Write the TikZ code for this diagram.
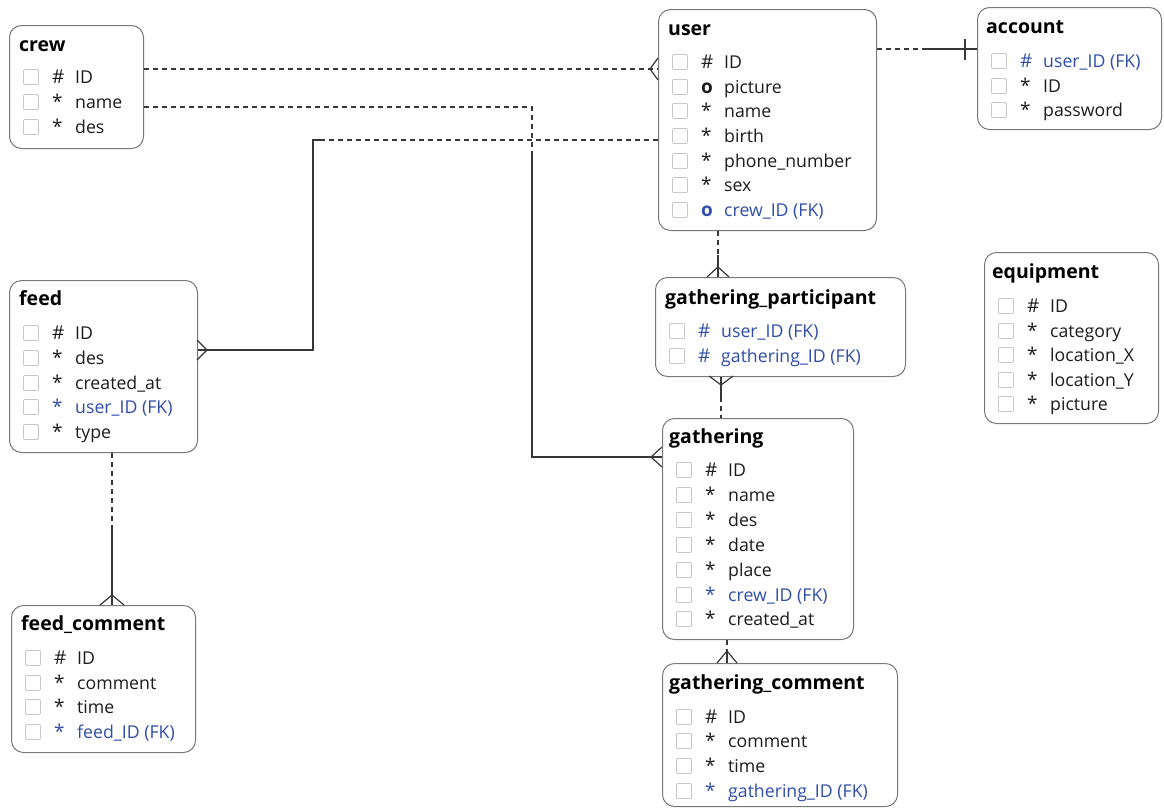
\documentclass[tikz,border=0pt]{standalone}
\usepackage{fontspec}
\setmainfont{Open Sans}
\definecolor{txt}{RGB}{28,28,28}
\definecolor{fk}{RGB}{48,78,168}
\definecolor{boxc}{RGB}{120,120,120}
\definecolor{chkc}{RGB}{200,200,200}
\definecolor{linec}{RGB}{55,55,55}
% one attribute row: [colour]{box left}{y}{name}{symbol}{text}
\newcommand{\erow}[6][txt]{%
	\node[chk] (#4-c) at (#2+22,#3) {};
	\node[sym,text=#1] (#4-s) at (#2+43,#3+6) {#5};
	\node[fld,text=#1] (#4) at (#2+66,#3+6) {#6};
}

\begin{document}
\begin{tikzpicture}[x=1pt,y=-1pt,
	entity/.style={anchor=north west, draw=boxc, line width=1pt, rounded corners=12pt, inner sep=0pt, fill=white},
	ttl/.style={anchor=base west, inner sep=0pt, text=black, font=\fontsize{19.5}{22}\selectfont\bfseries},
	chk/.style={draw=chkc, line width=0.9pt, rounded corners=1pt, minimum size=15pt, inner sep=0pt},
	sym/.style={anchor=base west, inner sep=0pt, font=\fontsize{19}{20}\selectfont},
	fld/.style={anchor=base west, inner sep=0pt, font=\fontsize{17.7}{20}\selectfont},
	rel/.style={draw=linec, line width=1.2pt},
	opt/.style={rel, dash pattern=on 5pt off 4pt}]
	\useasboundingbox (0,0) rectangle (1164,809);
		%Entities
			%crew
				\node[entity, minimum width=134, minimum height=123] (crew) at (9,25) {};
				\node[ttl] (crew-t) at (19,51) {crew};
				\erow{9}{77}{crew-id}{\#}{ID}
				\erow{9}{102}{crew-name}{*}{name}
				\erow{9}{127}{crew-des}{*}{des}
			%user
				\node[entity, minimum width=218, minimum height=221] (user) at (658,9) {};
				\node[ttl] (user-t) at (668,35) {user};
				\erow{658}{62}{user-id}{\#}{ID}
				\erow{658}{87}{user-picture}{\bfseries o}{picture}
				\erow{658}{111}{user-name}{*}{name}
				\erow{658}{136}{user-birth}{*}{birth}
				\erow{658}{161}{user-phone}{*}{phone\_number}
				\erow{658}{185}{user-sex}{*}{sex}
				\erow[fk]{658}{210}{user-crew}{\bfseries o}{crew\_ID (FK)}
			%account
				\node[entity, minimum width=184, minimum height=122] (account) at (977,7) {};
				\node[ttl] (account-t) at (986,33) {account};
				\erow[fk]{977}{61}{account-user}{\#}{user\_ID (FK)}
				\erow{977}{86}{account-id}{*}{ID}
				\erow{977}{110}{account-pw}{*}{password}
			%gathering_participant
				\node[entity, minimum width=250, minimum height=99] (gp) at (655,277) {};
				\node[ttl] (gp-t) at (665,304) {gathering\_participant};
				\erow[fk]{655}{331}{gp-user}{\#}{user\_ID (FK)}
				\erow[fk]{655}{356}{gp-gathering}{\#}{gathering\_ID (FK)}
			%equipment
				\node[entity, minimum width=174, minimum height=171] (equipment) at (984,252) {};
				\node[ttl] (equipment-t) at (992,278) {equipment};
				\erow{984}{306}{equipment-id}{\#}{ID}
				\erow{984}{331}{equipment-cat}{*}{category}
				\erow{984}{355}{equipment-x}{*}{location\_X}
				\erow{984}{380}{equipment-y}{*}{location\_Y}
				\erow{984}{404}{equipment-pic}{*}{picture}
			%feed
				\node[entity, minimum width=188, minimum height=172] (feed) at (9,280) {};
				\node[ttl] (feed-t) at (19,305) {feed};
				\erow{9}{333}{feed-id}{\#}{ID}
				\erow{9}{358}{feed-des}{*}{des}
				\erow{9}{383}{feed-created}{*}{created\_at}
				\erow[fk]{9}{407}{feed-user}{*}{user\_ID (FK)}
				\erow{9}{432}{feed-type}{*}{type}
			%gathering
				\node[entity, minimum width=191, minimum height=221] (gathering) at (662,418) {};
				\node[ttl] (gathering-t) at (669,443) {gathering};
				\erow{662}{470}{gathering-id}{\#}{ID}
				\erow{662}{495}{gathering-name}{*}{name}
				\erow{662}{520}{gathering-des}{*}{des}
				\erow{662}{545}{gathering-date}{*}{date}
				\erow{662}{570}{gathering-place}{*}{place}
				\erow[fk]{662}{595}{gathering-crew}{*}{crew\_ID (FK)}
				\erow{662}{619}{gathering-created}{*}{created\_at}
			%feed_comment
				\node[entity, minimum width=184, minimum height=147] (fcom) at (11,605) {};
				\node[ttl] (fcom-t) at (21,630) {feed\_comment};
				\erow{11}{658}{fcom-id}{\#}{ID}
				\erow{11}{683}{fcom-comment}{*}{comment}
				\erow{11}{707}{fcom-time}{*}{time}
				\erow[fk]{11}{732}{fcom-feed}{*}{feed\_ID (FK)}
			%gathering_comment
				\node[entity, minimum width=235, minimum height=143] (gcom) at (662,663) {};
				\node[ttl] (gcom-t) at (669,689) {gathering\_comment};
				\erow{662}{717}{gcom-id}{\#}{ID}
				\erow{662}{741}{gcom-comment}{*}{comment}
				\erow{662}{766}{gcom-time}{*}{time}
				\erow[fk]{662}{791}{gcom-gathering}{*}{gathering\_ID (FK)}
		%Relations
			%crew - user
				\coordinate (cu) at (650,69);
				\draw[opt] (crew.east |- cu) -- (user.west |- cu);
				\draw[rel] (cu) ++(8,-11) -- (cu) -- ++(8,11);
			%crew - gathering
				\coordinate (cg1) at (532,107);
				\coordinate (cgm) at (532,152);
				\coordinate (cg2) at (532,457);
				\coordinate (cgf) at (651,457);
				\draw[opt] (crew.east |- cg1) -- (cg1) -- (cgm);
				\draw[rel] (cgm) -- (cg2) -- (gathering.west |- cg2);
				\draw[rel] (cgf) ++(11,-10) -- (cgf) -- ++(11,10);
			%user - feed
				\coordinate (uf1) at (313,140);
				\coordinate (ufm) at (324,140);
				\coordinate (uf2) at (313,350);
				\coordinate (uff) at (207,350);
				\draw[opt] (user.west |- uf1) -- (ufm);
				\draw[rel] (ufm) -- (uf1) -- (uf2) -- (feed.east |- uf2);
				\draw[rel] (uff) ++(-10,-10) -- (uff) -- ++(-10,10);
			%user - account
				\coordinate (ua) at (922,49);
				\coordinate (ub) at (965,49);
				\draw[opt] (user.east |- ua) -- (ua);
				\draw[rel] (ua) -- (account.west |- ua);
				\draw[rel] (ub) ++(0,-10) -- ++(0,21);
			%user - gathering_participant
				\coordinate (ug) at (718,255);
				\coordinate (ugf) at (718,267);
				\draw[opt] (user.south -| ug) -- (ug);
				\draw[rel] (ug) -- (gp.north -| ug);
				\draw[rel] (ugf) ++(-11,10) -- (ugf) -- ++(11,10);
			%gathering_participant - gathering
				\coordinate (pg) at (721,397);
				\coordinate (pgf) at (721,385);
				\draw[rel] (gp.south -| pg) -- (pg);
				\draw[opt] (pg) -- (gathering.north -| pg);
				\draw[rel] (pgf) ++(-12,-9) -- (pgf) -- ++(12,-9);
			%gathering - gathering_comment
				\coordinate (gc) at (727,651);
				\draw[opt] (gathering.south -| gc) -- (gc);
				\draw[rel] (gc) -- (gcom.north -| gc);
				\draw[rel] (gc) ++(-10,12) -- (gc) -- ++(10,12);
			%feed - feed_comment
				\coordinate (ff) at (112,527);
				\coordinate (fff) at (112,595);
				\draw[opt] (feed.south -| ff) -- (ff);
				\draw[rel] (ff) -- (fcom.north -| ff);
				\draw[rel] (fff) ++(-12,10) -- (fff) -- ++(12,10);
\end{tikzpicture}
\end{document}
